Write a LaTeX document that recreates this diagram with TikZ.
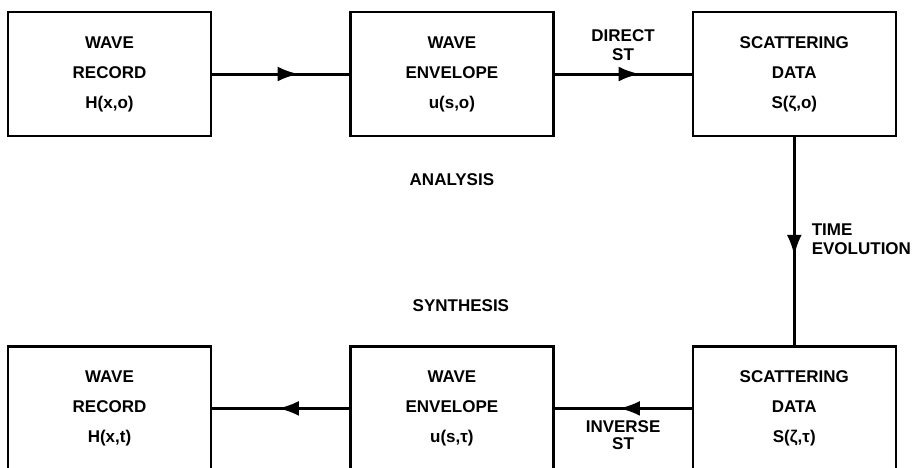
\documentclass[tikz,border=0pt]{standalone}
\usepackage{fontspec}
\setmainfont{Liberation Sans}
\usetikzlibrary{positioning, arrows.meta, decorations.markings}

\begin{document}
\begin{tikzpicture}[
      node distance=137pt and 137pt,
      block/.style={rectangle, draw, line width=2.4pt, minimum width=203pt, minimum height=124pt, align=center, font=\bfseries\fontsize{17}{30}\selectfont},
      tag/.style={font=\bfseries\fontsize{17}{19}\selectfont, inner sep=2pt},
      flow/.style={line width=3pt, postaction={decorate}, decoration={markings, mark=at position #1 with {\arrow{Latex[length=21pt, width=15pt]}}}}
    ]
      \clip (-109.5pt,74pt) rectangle (812.5pt,-393pt);
      % analysis row
      \node[block] (recA) {WAVE\\RECORD\\H(x,o)};
      \node[block, right=of recA] (envA) {WAVE\\ENVELOPE\\u(s,o)};
      \node[block, right=of envA] (scatA) {SCATTERING\\DATA\\S(ζ,o)};
      % synthesis row
      \node[block, below=208pt of scatA] (scatS) {SCATTERING\\DATA\\S(ζ,τ)};
      \node[block, left=of scatS] (envS) {WAVE\\ENVELOPE\\u(s,τ)};
      \node[block, left=of envS] (recS) {WAVE\\RECORD\\H(x,t)};

      \node[tag, below=34pt of envA] (anal) {ANALYSIS};
      \node[tag, above=31pt of envS, xshift=9pt] (synth) {SYNTHESIS};

      \draw[flow=0.63] (recA) -- (envA);
      \draw[flow=0.62] (envA) -- node[tag, above=10pt, align=center] {DIRECT\\ST} (scatA);
      \draw[flow=0.57] (scatA) -- node[tag, right=14pt, yshift=2pt, align=left] {TIME\\EVOLUTION} (scatS);
      \draw[flow=0.53] (scatS) -- node[tag, below=9pt, align=center, font=\bfseries\fontsize{17}{17}\selectfont] {INVERSE\\ST} (envS);
      \draw[flow=0.52] (envS) -- (recS);
    \end{tikzpicture}
\end{document}
